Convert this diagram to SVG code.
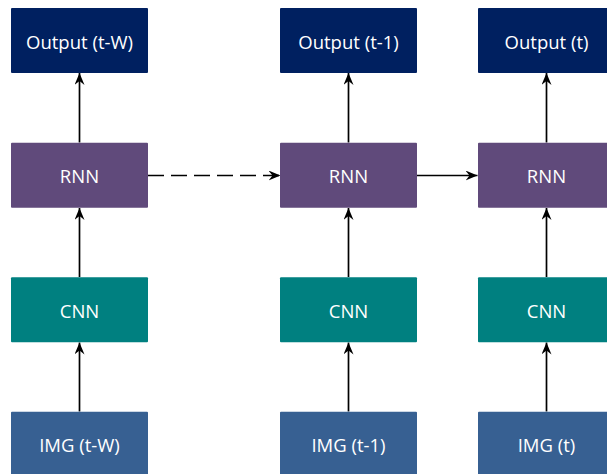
<svg xmlns="http://www.w3.org/2000/svg" width="607" height="474" viewBox="0 0 607 474">
  <style>
    .box { stroke: none; }
    .out { fill: #002060; }
    .rnn { fill: #604A7B; }
    .cnn { fill: #008080; }
    .img { fill: #376092; }
    .lbl { fill: #ffffff; font-family: "Open Sans", "Liberation Sans", sans-serif; font-size: 18.5px; text-anchor: middle; dominant-baseline: central; }
    .edge { stroke: #000000; stroke-width: 1.7; fill: none; marker-end: url(#arrow); }
    .dash { stroke-dasharray: 16 7; }
  </style>
  <defs>
    <marker id="arrow" viewBox="0 0 12 10" refX="12" refY="5" markerWidth="12" markerHeight="10" markerUnits="userSpaceOnUse" orient="auto">
      <path d="M0,0 L12,5 L0,10 L4,5 Z" fill="#000000"/>
    </marker>
  </defs>

  <g id="connectors">
    <!-- column t-W -->
    <line class="edge" x1="79.5" y1="411.5" x2="79.5" y2="342.5"/>
    <line class="edge" x1="79.5" y1="277" x2="79.5" y2="208"/>
    <line class="edge" x1="79.5" y1="142.5" x2="79.5" y2="73"/>
    <!-- column t-1 -->
    <line class="edge" x1="348.5" y1="411.5" x2="348.5" y2="342.5"/>
    <line class="edge" x1="348.5" y1="277" x2="348.5" y2="208"/>
    <line class="edge" x1="348.5" y1="142.5" x2="348.5" y2="73"/>
    <!-- column t -->
    <line class="edge" x1="546.5" y1="411.5" x2="546.5" y2="342.5"/>
    <line class="edge" x1="546.5" y1="277" x2="546.5" y2="208"/>
    <line class="edge" x1="546.5" y1="142.5" x2="546.5" y2="73"/>
    <!-- recurrent links -->
    <line class="edge dash" x1="148" y1="175.5" x2="280.5" y2="175.5"/>
    <line class="edge" x1="416.5" y1="175.5" x2="477.5" y2="175.5"/>
  </g>

  <g id="out-tw"><rect class="box out" x="11" y="8" width="137" height="65" rx="1"/><text class="lbl" x="79.5" y="41">Output (t-W)</text></g>
  <g id="out-t1"><rect class="box out" x="280" y="8" width="137" height="65" rx="1"/><text class="lbl" x="348.5" y="41">Output (t-1)</text></g>
  <g id="out-t"><rect class="box out" x="478" y="8" width="137" height="65" rx="1"/><text class="lbl" x="546.5" y="41">Output (t)</text></g>

  <g id="rnn-tw"><rect class="box rnn" x="11" y="142.7" width="137" height="65" rx="1"/><text class="lbl" x="79.5" y="175.5">RNN</text></g>
  <g id="rnn-t1"><rect class="box rnn" x="280" y="142.7" width="137" height="65" rx="1"/><text class="lbl" x="348.5" y="175.5">RNN</text></g>
  <g id="rnn-t"><rect class="box rnn" x="478" y="142.7" width="137" height="65" rx="1"/><text class="lbl" x="546.5" y="175.5">RNN</text></g>

  <g id="cnn-tw"><rect class="box cnn" x="11" y="277.2" width="137" height="65" rx="1"/><text class="lbl" x="79.5" y="310">CNN</text></g>
  <g id="cnn-t1"><rect class="box cnn" x="280" y="277.2" width="137" height="65" rx="1"/><text class="lbl" x="348.5" y="310">CNN</text></g>
  <g id="cnn-t"><rect class="box cnn" x="478" y="277.2" width="137" height="65" rx="1"/><text class="lbl" x="546.5" y="310">CNN</text></g>

  <g id="img-tw"><rect class="box img" x="11" y="411.7" width="137" height="65" rx="1"/><text class="lbl" x="79.5" y="444">IMG (t-W)</text></g>
  <g id="img-t1"><rect class="box img" x="280" y="411.7" width="137" height="65" rx="1"/><text class="lbl" x="348.5" y="444">IMG (t-1)</text></g>
  <g id="img-t"><rect class="box img" x="478" y="411.7" width="137" height="65" rx="1"/><text class="lbl" x="546.5" y="444">IMG (t)</text></g>
</svg>
